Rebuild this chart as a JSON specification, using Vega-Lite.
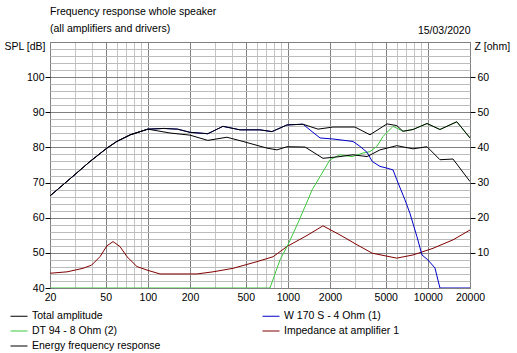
{
  "$schema": "https://vega.github.io/schema/vega-lite/v6.json",
  "width": 420,
  "height": 246,
  "autosize": "none",
  "padding": {"left": 50, "top": 42, "right": 47, "bottom": 65},
  "background": "white",
  "config": {
    "font": "Liberation Sans",
    "view": {"stroke": "#808080"},
    "axis": {"labelFontSize": 10.5, "labelColor": "black", "titleFontSize": 10.5, "titleFontWeight": "normal", "titleColor": "black", "labelFont": "Liberation Sans", "titleFont": "Liberation Sans"}
  },
  "title": {
    "text": ["Frequency response whole speaker", "(all amplifiers and drivers)"],
    "anchor": "start",
    "frame": "group",
    "fontSize": 10.5,
    "fontWeight": "normal",
    "font": "Liberation Sans",
    "color": "black",
    "lineHeight": 17,
    "offset": 8,
    "dy": 17
  },
  "data": {"values": [
    {"s": "Total amplitude", "f": 20, "v": 66.2},
    {"s": "Total amplitude", "f": 29, "v": 71.7},
    {"s": "Total amplitude", "f": 38.6, "v": 76},
    {"s": "Total amplitude", "f": 51, "v": 79.8},
    {"s": "Total amplitude", "f": 60, "v": 81.7},
    {"s": "Total amplitude", "f": 75, "v": 83.6},
    {"s": "Total amplitude", "f": 100, "v": 85.2},
    {"s": "Total amplitude", "f": 130, "v": 85.4},
    {"s": "Total amplitude", "f": 163, "v": 85.2},
    {"s": "Total amplitude", "f": 200, "v": 84.3},
    {"s": "Total amplitude", "f": 268, "v": 83.9},
    {"s": "Total amplitude", "f": 344, "v": 86.0},
    {"s": "Total amplitude", "f": 455, "v": 85.0},
    {"s": "Total amplitude", "f": 632, "v": 85.0},
    {"s": "Total amplitude", "f": 770, "v": 84.5},
    {"s": "Total amplitude", "f": 986, "v": 86.4},
    {"s": "Total amplitude", "f": 1283, "v": 86.6},
    {"s": "Total amplitude", "f": 1642, "v": 85.2},
    {"s": "Total amplitude", "f": 2100, "v": 85.8},
    {"s": "Total amplitude", "f": 3015, "v": 85.8},
    {"s": "Total amplitude", "f": 3860, "v": 83.6},
    {"s": "Total amplitude", "f": 5110, "v": 86.7},
    {"s": "Total amplitude", "f": 6000, "v": 86.2},
    {"s": "Total amplitude", "f": 6640, "v": 84.6},
    {"s": "Total amplitude", "f": 7830, "v": 85.1},
    {"s": "Total amplitude", "f": 9860, "v": 86.8},
    {"s": "Total amplitude", "f": 12200, "v": 85.1},
    {"s": "Total amplitude", "f": 16100, "v": 87.3},
    {"s": "Total amplitude", "f": 20000, "v": 82.7},

    {"s": "Energy frequency response", "f": 20, "v": 66.2},
    {"s": "Energy frequency response", "f": 29, "v": 71.7},
    {"s": "Energy frequency response", "f": 38.6, "v": 76},
    {"s": "Energy frequency response", "f": 51, "v": 79.8},
    {"s": "Energy frequency response", "f": 60, "v": 81.7},
    {"s": "Energy frequency response", "f": 75, "v": 83.6},
    {"s": "Energy frequency response", "f": 100, "v": 85.2},
    {"s": "Energy frequency response", "f": 144, "v": 84.1},
    {"s": "Energy frequency response", "f": 200, "v": 83.5},
    {"s": "Energy frequency response", "f": 268, "v": 82.0},
    {"s": "Energy frequency response", "f": 367, "v": 82.9},
    {"s": "Energy frequency response", "f": 478, "v": 81.7},
    {"s": "Energy frequency response", "f": 710, "v": 79.8},
    {"s": "Energy frequency response", "f": 836, "v": 79.3},
    {"s": "Energy frequency response", "f": 986, "v": 80.2},
    {"s": "Energy frequency response", "f": 1328, "v": 80.1},
    {"s": "Energy frequency response", "f": 1782, "v": 76.9},
    {"s": "Energy frequency response", "f": 2358, "v": 77.4},
    {"s": "Energy frequency response", "f": 2920, "v": 77.9},
    {"s": "Energy frequency response", "f": 3680, "v": 77.4},
    {"s": "Energy frequency response", "f": 4550, "v": 79.3},
    {"s": "Energy frequency response", "f": 6000, "v": 80.5},
    {"s": "Energy frequency response", "f": 7830, "v": 79.6},
    {"s": "Energy frequency response", "f": 9860, "v": 80.2},
    {"s": "Energy frequency response", "f": 12200, "v": 76.5},
    {"s": "Energy frequency response", "f": 15120, "v": 76.7},
    {"s": "Energy frequency response", "f": 20000, "v": 70.3},

    {"s": "W 170 S - 4 Ohm (1)", "f": 20, "v": 66.2},
    {"s": "W 170 S - 4 Ohm (1)", "f": 29, "v": 71.7},
    {"s": "W 170 S - 4 Ohm (1)", "f": 38.6, "v": 76},
    {"s": "W 170 S - 4 Ohm (1)", "f": 51, "v": 79.8},
    {"s": "W 170 S - 4 Ohm (1)", "f": 60, "v": 81.7},
    {"s": "W 170 S - 4 Ohm (1)", "f": 75, "v": 83.6},
    {"s": "W 170 S - 4 Ohm (1)", "f": 100, "v": 85.2},
    {"s": "W 170 S - 4 Ohm (1)", "f": 130, "v": 85.4},
    {"s": "W 170 S - 4 Ohm (1)", "f": 163, "v": 85.2},
    {"s": "W 170 S - 4 Ohm (1)", "f": 200, "v": 84.3},
    {"s": "W 170 S - 4 Ohm (1)", "f": 268, "v": 83.9},
    {"s": "W 170 S - 4 Ohm (1)", "f": 344, "v": 86.0},
    {"s": "W 170 S - 4 Ohm (1)", "f": 455, "v": 85.0},
    {"s": "W 170 S - 4 Ohm (1)", "f": 632, "v": 85.0},
    {"s": "W 170 S - 4 Ohm (1)", "f": 770, "v": 84.5},
    {"s": "W 170 S - 4 Ohm (1)", "f": 986, "v": 86.4},
    {"s": "W 170 S - 4 Ohm (1)", "f": 1283, "v": 86.6},
    {"s": "W 170 S - 4 Ohm (1)", "f": 1488, "v": 84.5},
    {"s": "W 170 S - 4 Ohm (1)", "f": 1698, "v": 82.7},
    {"s": "W 170 S - 4 Ohm (1)", "f": 2100, "v": 82.4},
    {"s": "W 170 S - 4 Ohm (1)", "f": 2920, "v": 81.7},
    {"s": "W 170 S - 4 Ohm (1)", "f": 3276, "v": 80.3},
    {"s": "W 170 S - 4 Ohm (1)", "f": 3680, "v": 78.6},
    {"s": "W 170 S - 4 Ohm (1)", "f": 4010, "v": 76.0},
    {"s": "W 170 S - 4 Ohm (1)", "f": 4550, "v": 74.6},
    {"s": "W 170 S - 4 Ohm (1)", "f": 5110, "v": 74.1},
    {"s": "W 170 S - 4 Ohm (1)", "f": 5640, "v": 73.6},
    {"s": "W 170 S - 4 Ohm (1)", "f": 6000, "v": 70.8},
    {"s": "W 170 S - 4 Ohm (1)", "f": 6860, "v": 65.1},
    {"s": "W 170 S - 4 Ohm (1)", "f": 7440, "v": 61.3},
    {"s": "W 170 S - 4 Ohm (1)", "f": 8360, "v": 54.6},
    {"s": "W 170 S - 4 Ohm (1)", "f": 9080, "v": 49.4},
    {"s": "W 170 S - 4 Ohm (1)", "f": 10000, "v": 48.0},
    {"s": "W 170 S - 4 Ohm (1)", "f": 11240, "v": 45.7},
    {"s": "W 170 S - 4 Ohm (1)", "f": 12200, "v": 40},
    {"s": "W 170 S - 4 Ohm (1)", "f": 20000, "v": 40},

    {"s": "DT 94 - 8 Ohm (2)", "f": 20, "v": 40},
    {"s": "DT 94 - 8 Ohm (2)", "f": 745, "v": 40},
    {"s": "DT 94 - 8 Ohm (2)", "f": 879, "v": 48},
    {"s": "DT 94 - 8 Ohm (2)", "f": 1002, "v": 52.3},
    {"s": "DT 94 - 8 Ohm (2)", "f": 1180, "v": 58.5},
    {"s": "DT 94 - 8 Ohm (2)", "f": 1392, "v": 65.1},
    {"s": "DT 94 - 8 Ohm (2)", "f": 1488, "v": 67.9},
    {"s": "DT 94 - 8 Ohm (2)", "f": 1698, "v": 71.7},
    {"s": "DT 94 - 8 Ohm (2)", "f": 2000, "v": 76.5},
    {"s": "DT 94 - 8 Ohm (2)", "f": 2358, "v": 77.9},
    {"s": "DT 94 - 8 Ohm (2)", "f": 2872, "v": 77.4},
    {"s": "DT 94 - 8 Ohm (2)", "f": 3440, "v": 78.4},
    {"s": "DT 94 - 8 Ohm (2)", "f": 3860, "v": 78.8},
    {"s": "DT 94 - 8 Ohm (2)", "f": 4330, "v": 80.3},
    {"s": "DT 94 - 8 Ohm (2)", "f": 4780, "v": 83.1},
    {"s": "DT 94 - 8 Ohm (2)", "f": 5640, "v": 86.0},
    {"s": "DT 94 - 8 Ohm (2)", "f": 6640, "v": 84.6},
    {"s": "DT 94 - 8 Ohm (2)", "f": 7830, "v": 85.1},
    {"s": "DT 94 - 8 Ohm (2)", "f": 9860, "v": 86.8},
    {"s": "DT 94 - 8 Ohm (2)", "f": 12200, "v": 85.1},
    {"s": "DT 94 - 8 Ohm (2)", "f": 16100, "v": 87.3},
    {"s": "DT 94 - 8 Ohm (2)", "f": 20000, "v": 82.7},

    {"s": "Impedance at amplifier 1", "f": 20, "v": 4.2},
    {"s": "Impedance at amplifier 1", "f": 26.5, "v": 4.6},
    {"s": "Impedance at amplifier 1", "f": 34.4, "v": 5.6},
    {"s": "Impedance at amplifier 1", "f": 39.6, "v": 6.5},
    {"s": "Impedance at amplifier 1", "f": 45.5, "v": 8.9},
    {"s": "Impedance at amplifier 1", "f": 51, "v": 12.0},
    {"s": "Impedance at amplifier 1", "f": 56.4, "v": 13.2},
    {"s": "Impedance at amplifier 1", "f": 63.2, "v": 11.8},
    {"s": "Impedance at amplifier 1", "f": 71, "v": 8.9},
    {"s": "Impedance at amplifier 1", "f": 83.6, "v": 6.1},
    {"s": "Impedance at amplifier 1", "f": 98.6, "v": 5.1},
    {"s": "Impedance at amplifier 1", "f": 122, "v": 4.0},
    {"s": "Impedance at amplifier 1", "f": 224, "v": 4.0},
    {"s": "Impedance at amplifier 1", "f": 292, "v": 4.6},
    {"s": "Impedance at amplifier 1", "f": 406, "v": 5.6},
    {"s": "Impedance at amplifier 1", "f": 602, "v": 7.5},
    {"s": "Impedance at amplifier 1", "f": 784, "v": 8.9},
    {"s": "Impedance at amplifier 1", "f": 986, "v": 11.8},
    {"s": "Impedance at amplifier 1", "f": 1392, "v": 15.1},
    {"s": "Impedance at amplifier 1", "f": 1782, "v": 17.7},
    {"s": "Impedance at amplifier 1", "f": 2358, "v": 15.1},
    {"s": "Impedance at amplifier 1", "f": 3120, "v": 12.3},
    {"s": "Impedance at amplifier 1", "f": 4010, "v": 9.9},
    {"s": "Impedance at amplifier 1", "f": 6000, "v": 8.5},
    {"s": "Impedance at amplifier 1", "f": 7830, "v": 9.4},
    {"s": "Impedance at amplifier 1", "f": 10890, "v": 11.3},
    {"s": "Impedance at amplifier 1", "f": 15120, "v": 13.7},
    {"s": "Impedance at amplifier 1", "f": 20000, "v": 16.5}
  ]},
  "encoding": {
    "color": {
      "field": "s",
      "type": "nominal",
      "scale": {
        "domain": ["Total amplitude", "DT 94 - 8 Ohm (2)", "Energy frequency response", "W 170 S - 4 Ohm (1)", "Impedance at amplifier 1"],
        "range": ["#000000", "#3cc83c", "#000000", "#0000c8", "#800000"]
      },
      "legend": {
        "title": null,
        "orient": "none",
        "legendX": -40,
        "legendY": 265,
        "columns": 2,
        "columnPadding": 99,
        "rowPadding": -1.5,
        "padding": 0,
        "symbolType": "stroke",
        "symbolSize": 289,
        "symbolStrokeWidth": 1,
        "labelFontSize": 10.5,
        "labelFont": "Liberation Sans",
        "labelColor": "black",
        "labelOffset": 4,
        "labelLimit": 300
      }
    }
  },
  "layer": [
    {
      "transform": [{"filter": "datum.s === 'Impedance at amplifier 1'"}],
      "mark": {"type": "line", "strokeWidth": 1, "clip": true},
      "encoding": {
        "x": {"field": "f", "type": "quantitative", "scale": {"type": "log", "domain": [20, 20000], "nice": false}, "axis": null},
        "y": {"field": "v", "type": "quantitative", "scale": {"domain": [0, 70], "nice": false, "zero": false},
          "axis": {"orient": "right", "values": [10, 20, 30, 40, 50, 60], "grid": false, "domain": false, "ticks": true, "tickSize": 5, "tickColor": "black", "labelPadding": 2, "labelOverlap": false,
            "title": "Z [ohm]", "titleAngle": 0, "titleX": 4, "titleY": 7, "titleAlign": "left", "titleBaseline": "alphabetic"}}
      }
    },
    {
      "transform": [{"filter": "datum.s === 'DT 94 - 8 Ohm (2)'"}],
      "mark": {"type": "line", "strokeWidth": 1, "clip": true},
      "encoding": {
        "x": {"field": "f", "type": "quantitative", "scale": {"type": "log", "domain": [20, 20000], "nice": false},
          "axis": {"orient": "bottom", "values": [20, 50, 100, 200, 500, 1000, 2000, 5000, 10000, 20000], "format": "d", "grid": false, "domain": false, "ticks": false, "labelPadding": 4, "labelFlush": false, "labelOverlap": false, "title": null}},
        "y": {"field": "v", "type": "quantitative", "scale": {"domain": [40, 110], "nice": false, "zero": false},
          "axis": {"orient": "left", "values": [40, 50, 60, 70, 80, 90, 100], "grid": false, "domain": false, "ticks": true, "tickSize": 5, "tickColor": "black", "labelPadding": 1, "labelOverlap": false,
            "title": "SPL [dB]", "titleAngle": 0, "titleX": -5, "titleY": 7, "titleAlign": "right", "titleBaseline": "alphabetic"}}
      }
    },
    {
      "transform": [{"filter": "datum.s === 'W 170 S - 4 Ohm (1)'"}],
      "mark": {"type": "line", "strokeWidth": 1, "clip": true},
      "encoding": {
        "x": {"field": "f", "type": "quantitative", "scale": {"type": "log", "domain": [20, 20000], "nice": false}, "axis": null},
        "y": {"field": "v", "type": "quantitative", "scale": {"domain": [40, 110], "nice": false, "zero": false}, "axis": null}
      }
    },
    {
      "transform": [{"filter": "datum.s === 'Energy frequency response'"}],
      "mark": {"type": "line", "strokeWidth": 1, "clip": true},
      "encoding": {
        "x": {"field": "f", "type": "quantitative", "scale": {"type": "log", "domain": [20, 20000], "nice": false},
          "axis": {"orient": "bottom", "values": [20, 30, 40, 50, 60, 70, 80, 90, 100, 200, 300, 400, 500, 600, 700, 800, 900, 1000, 2000, 3000, 4000, 5000, 6000, 7000, 8000, 9000, 10000, 20000],
            "grid": true, "gridColor": {"condition": {"test": "indexof([20, 50, 100, 200, 500, 1000, 2000, 5000, 10000, 20000], datum.value) >= 0", "value": "#808080"}, "value": "#c4c4c4"},
            "labels": false, "ticks": false, "domain": false, "title": null}},
        "y": {"field": "v", "type": "quantitative", "scale": {"domain": [40, 110], "nice": false, "zero": false},
          "axis": {"orient": "left", "values": [40, 42, 44, 46, 48, 50, 52, 54, 56, 58, 60, 62, 64, 66, 68, 70, 72, 74, 76, 78, 80, 82, 84, 86, 88, 90, 92, 94, 96, 98, 100, 102, 104, 106, 108, 110],
            "grid": true, "gridColor": {"condition": {"test": "datum.value % 10 === 0", "value": "#808080"}, "value": "#bcbcbc"},
            "labels": false, "ticks": false, "domain": false,
            "title": "15/03/2020", "titleAngle": 0, "titleX": 420, "titleY": -9, "titleAlign": "right", "titleBaseline": "alphabetic"}}
      }
    },
    {
      "transform": [{"filter": "datum.s === 'Total amplitude'"}],
      "mark": {"type": "line", "strokeWidth": 1, "clip": true},
      "encoding": {
        "x": {"field": "f", "type": "quantitative", "scale": {"type": "log", "domain": [20, 20000], "nice": false}, "axis": null},
        "y": {"field": "v", "type": "quantitative", "scale": {"domain": [40, 110], "nice": false, "zero": false}, "axis": null}
      }
    }
  ],
  "resolve": {"scale": {"y": "independent"}, "axis": {"x": "independent", "y": "independent"}}
}
